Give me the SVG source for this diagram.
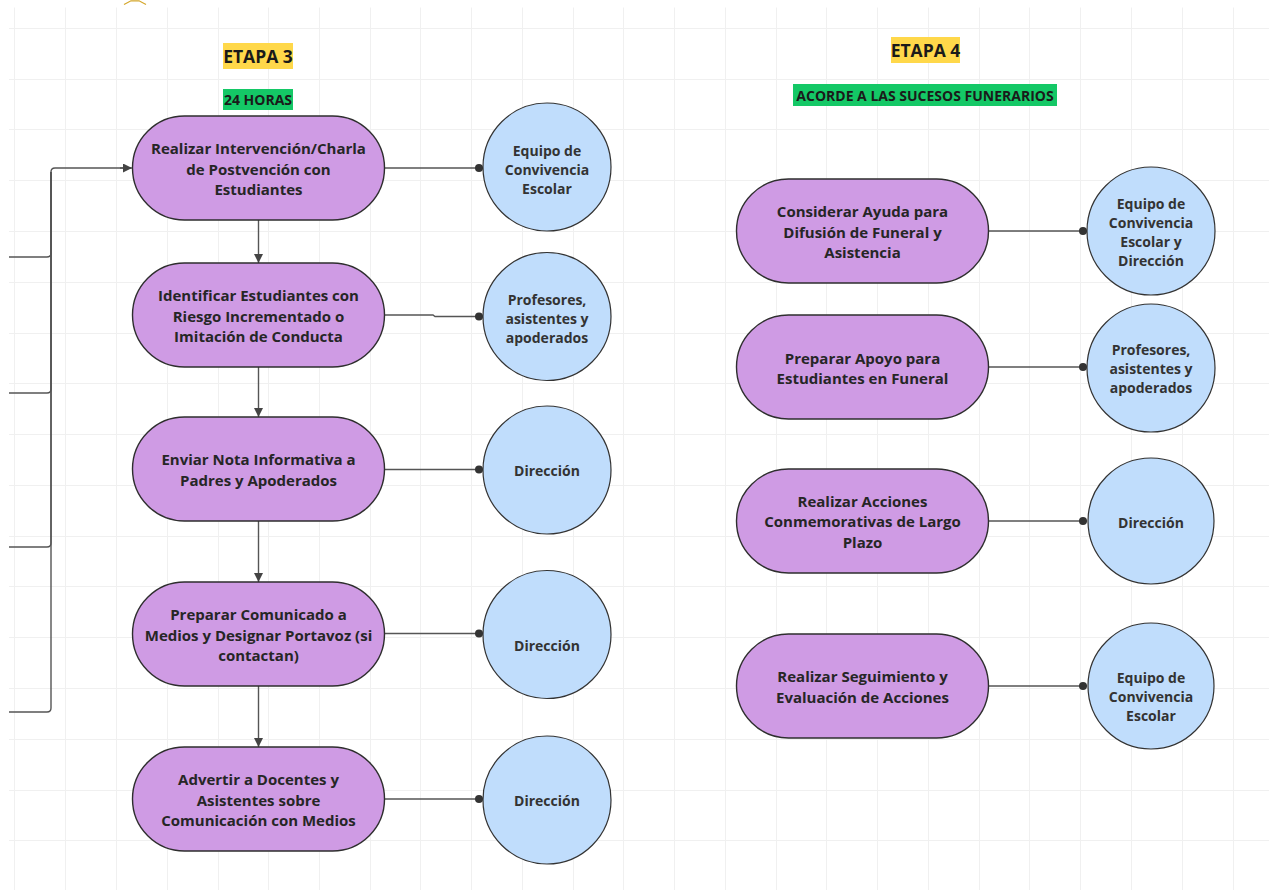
<svg xmlns="http://www.w3.org/2000/svg" width="1269" height="890" viewBox="0 0 1269 890">
<style>
.grid line{stroke:#f0f0f0;stroke-width:1}
.pill{fill:#cf9be4;stroke:#2e2e2e;stroke-width:1.4}
.circ{fill:#c0ddfc;stroke:#333;stroke-width:1.2}
.t{font-family:"Open Sans","Noto Sans","Liberation Sans",sans-serif;font-weight:700;font-size:15px;fill:#262626;text-anchor:middle;dominant-baseline:central}
.c{font-family:"Open Sans","Noto Sans","Liberation Sans",sans-serif;font-weight:700;font-size:14px;fill:#333;text-anchor:middle;dominant-baseline:central}
.h{font-family:"Open Sans","Noto Sans","Liberation Sans",sans-serif;font-weight:700;fill:#1a1a1a;text-anchor:middle;dominant-baseline:central}
.link{fill:none;stroke:#555;stroke-width:1.4}
.arr{fill:none;stroke:#555;stroke-width:1.4;marker-end:url(#ah)}
.dotl{fill:none;stroke:#555;stroke-width:1.4;marker-end:url(#dot)}
</style>
<defs>
<marker id="ah" viewBox="0 0 10 10" refX="10" refY="5" markerWidth="9" markerHeight="9" markerUnits="userSpaceOnUse" orient="auto">
<path d="M0,0 L10,5 L0,10 z" fill="#444"/>
</marker>
<marker id="dot" viewBox="0 0 10 10" refX="9" refY="5" markerWidth="10" markerHeight="10" markerUnits="userSpaceOnUse" orient="auto">
<circle cx="5" cy="5" r="4" fill="#333"/>
</marker>
</defs>
<rect x="0" y="0" width="1269" height="890" fill="#ffffff"/>
<g class="grid">
<line x1="14.5" y1="7.5" x2="14.5" y2="890"/><line x1="65.5" y1="7.5" x2="65.5" y2="890"/><line x1="116.5" y1="7.5" x2="116.5" y2="890"/><line x1="167.5" y1="7.5" x2="167.5" y2="890"/><line x1="218.5" y1="7.5" x2="218.5" y2="890"/><line x1="268.5" y1="7.5" x2="268.5" y2="890"/><line x1="319.5" y1="7.5" x2="319.5" y2="890"/><line x1="370.5" y1="7.5" x2="370.5" y2="890"/><line x1="420.5" y1="7.5" x2="420.5" y2="890"/><line x1="471.5" y1="7.5" x2="471.5" y2="890"/><line x1="522.5" y1="7.5" x2="522.5" y2="890"/><line x1="573.5" y1="7.5" x2="573.5" y2="890"/><line x1="623.5" y1="7.5" x2="623.5" y2="890"/><line x1="674.5" y1="7.5" x2="674.5" y2="890"/><line x1="725.5" y1="7.5" x2="725.5" y2="890"/><line x1="776.5" y1="7.5" x2="776.5" y2="890"/><line x1="826.5" y1="7.5" x2="826.5" y2="890"/><line x1="877.5" y1="7.5" x2="877.5" y2="890"/><line x1="928.5" y1="7.5" x2="928.5" y2="890"/><line x1="979.5" y1="7.5" x2="979.5" y2="890"/><line x1="1029.5" y1="7.5" x2="1029.5" y2="890"/><line x1="1080.5" y1="7.5" x2="1080.5" y2="890"/><line x1="1131.5" y1="7.5" x2="1131.5" y2="890"/><line x1="1182.5" y1="7.5" x2="1182.5" y2="890"/><line x1="1233.5" y1="7.5" x2="1233.5" y2="890"/>
<line x1="9" y1="28.5" x2="1269" y2="28.5"/><line x1="9" y1="79.5" x2="1269" y2="79.5"/><line x1="9" y1="129.5" x2="1269" y2="129.5"/><line x1="9" y1="180.5" x2="1269" y2="180.5"/><line x1="9" y1="231.5" x2="1269" y2="231.5"/><line x1="9" y1="282.5" x2="1269" y2="282.5"/><line x1="9" y1="333.5" x2="1269" y2="333.5"/><line x1="9" y1="383.5" x2="1269" y2="383.5"/><line x1="9" y1="434.5" x2="1269" y2="434.5"/><line x1="9" y1="485.5" x2="1269" y2="485.5"/><line x1="9" y1="536.5" x2="1269" y2="536.5"/><line x1="9" y1="586.5" x2="1269" y2="586.5"/><line x1="9" y1="637.5" x2="1269" y2="637.5"/><line x1="9" y1="688.5" x2="1269" y2="688.5"/><line x1="9" y1="739.5" x2="1269" y2="739.5"/><line x1="9" y1="790.5" x2="1269" y2="790.5"/><line x1="9" y1="840.5" x2="1269" y2="840.5"/>
</g>
<path d="M124,4.5 L131,0.8 H139 L146,4.5" fill="none" stroke="#d4a72c" stroke-width="1.3"/>

<g id="headers">
<rect x="223" y="43" width="70" height="26" fill="#ffd84a"/>
<text class="h" x="258" y="56" font-size="17.5">ETAPA 3</text>
<rect x="223" y="89" width="70" height="21" fill="#14c866"/>
<text class="h" x="258" y="99.5" font-size="14">24 HORAS</text>
<rect x="891" y="37" width="69" height="26" fill="#ffd84a"/>
<text class="h" x="925.5" y="50" font-size="17.5">ETAPA 4</text>
<rect x="793" y="84" width="264" height="22" fill="#14c866"/>
<text class="h" x="925" y="95" font-size="14">ACORDE A LAS SUCESOS FUNERARIOS</text>
</g>

<g id="connectors">
<path class="link" d="M9,257 H47 Q51,257 51,253 V172 Q51,168 55,168 H131"/>
<path class="link" d="M9,393 H47 Q51,393 51,389 V172"/>
<path class="link" d="M9,547 H47 Q51,547 51,543 V172"/>
<path class="link" d="M9,712 H47 Q51,712 51,708 V172"/>
<path class="arr" d="M120,168 H132"/>
<path class="arr" d="M258.5,220 V263"/>
<path class="arr" d="M258.5,367 V417"/>
<path class="arr" d="M258.5,521 V582"/>
<path class="arr" d="M258.5,686 V747"/>
<path class="dotl" d="M384.5,168 H483"/>
<path class="dotl" d="M384.5,315 H433 L435,316.5 H483"/>
<path class="dotl" d="M384.5,469.5 H483"/>
<path class="dotl" d="M384.5,633.5 H483"/>
<path class="dotl" d="M384.5,799 H483"/>
<path class="dotl" d="M988.5,231 H1087"/>
<path class="dotl" d="M988.5,367 H1087"/>
<path class="dotl" d="M988.5,521 H1087"/>
<path class="dotl" d="M988.5,686 H1087"/>
</g>

<g id="n1"><rect class="pill" x="132.5" y="116" width="252" height="104" rx="52"/>
<text class="t" x="258.5" y="148">Realizar Intervención/Charla</text><text class="t" x="258.5" y="168.5">de Postvención con</text><text class="t" x="258.5" y="189">Estudiantes</text></g>
<g id="n2"><rect class="pill" x="132.5" y="263" width="252" height="104" rx="52"/>
<text class="t" x="258.5" y="295">Identificar Estudiantes con</text><text class="t" x="258.5" y="315.5">Riesgo Incrementado o</text><text class="t" x="258.5" y="336">Imitación de Conducta</text></g>
<g id="n3"><rect class="pill" x="132.5" y="417" width="252" height="104" rx="52"/>
<text class="t" x="258.5" y="459">Enviar Nota Informativa a</text><text class="t" x="258.5" y="480">Padres y Apoderados</text></g>
<g id="n4"><rect class="pill" x="132.5" y="582" width="252" height="104" rx="52"/>
<text class="t" x="258.5" y="614">Preparar Comunicado a</text><text class="t" x="258.5" y="634.5">Medios y Designar Portavoz (si</text><text class="t" x="258.5" y="655">contactan)</text></g>
<g id="n5"><rect class="pill" x="132.5" y="747" width="252" height="104" rx="52"/>
<text class="t" x="258.5" y="779">Advertir a Docentes y</text><text class="t" x="258.5" y="799.5">Asistentes sobre</text><text class="t" x="258.5" y="820">Comunicación con Medios</text></g>

<g id="c1"><circle class="circ" cx="547" cy="167" r="64"/>
<text class="c" x="547" y="150">Equipo de</text><text class="c" x="547" y="169">Convivencia</text><text class="c" x="547" y="188">Escolar</text></g>
<g id="c2"><circle class="circ" cx="547" cy="316.5" r="64"/>
<text class="c" x="547" y="299">Profesores,</text><text class="c" x="547" y="318">asistentes y</text><text class="c" x="547" y="337">apoderados</text></g>
<g id="c3"><circle class="circ" cx="547" cy="470" r="64"/>
<text class="c" x="547" y="470">Dirección</text></g>
<g id="c4"><circle class="circ" cx="547" cy="634.5" r="64"/>
<text class="c" x="547" y="645">Dirección</text></g>
<g id="c5"><circle class="circ" cx="547" cy="800" r="64"/>
<text class="c" x="547" y="800">Dirección</text></g>

<g id="r1"><rect class="pill" x="736.5" y="179" width="252" height="104" rx="52"/>
<text class="t" x="862.5" y="211">Considerar Ayuda para</text><text class="t" x="862.5" y="231.5">Difusión de Funeral y</text><text class="t" x="862.5" y="252">Asistencia</text></g>
<g id="r2"><rect class="pill" x="736.5" y="315" width="252" height="104" rx="52"/>
<text class="t" x="862.5" y="357.5">Preparar Apoyo para</text><text class="t" x="862.5" y="378">Estudiantes en Funeral</text></g>
<g id="r3"><rect class="pill" x="736.5" y="469" width="252" height="104" rx="52"/>
<text class="t" x="862.5" y="500.5">Realizar Acciones</text><text class="t" x="862.5" y="521">Conmemorativas de Largo</text><text class="t" x="862.5" y="541.5">Plazo</text></g>
<g id="r4"><rect class="pill" x="736.5" y="634" width="252" height="104" rx="52"/>
<text class="t" x="862.5" y="676">Realizar Seguimiento y</text><text class="t" x="862.5" y="696.5">Evaluación de Acciones</text></g>

<g id="rc1"><circle class="circ" cx="1151" cy="231" r="64"/>
<text class="c" x="1151" y="203">Equipo de</text><text class="c" x="1151" y="222">Convivencia</text><text class="c" x="1151" y="241">Escolar y</text><text class="c" x="1151" y="260">Dirección</text></g>
<g id="rc2"><circle class="circ" cx="1151" cy="368" r="64"/>
<text class="c" x="1151" y="349">Profesores,</text><text class="c" x="1151" y="368">asistentes y</text><text class="c" x="1151" y="387">apoderados</text></g>
<g id="rc3"><circle class="circ" cx="1151" cy="521" r="63"/>
<text class="c" x="1151" y="522">Dirección</text></g>
<g id="rc4"><circle class="circ" cx="1151" cy="686" r="63"/>
<text class="c" x="1151" y="677">Equipo de</text><text class="c" x="1151" y="696">Convivencia</text><text class="c" x="1151" y="715">Escolar</text></g>
</svg>
